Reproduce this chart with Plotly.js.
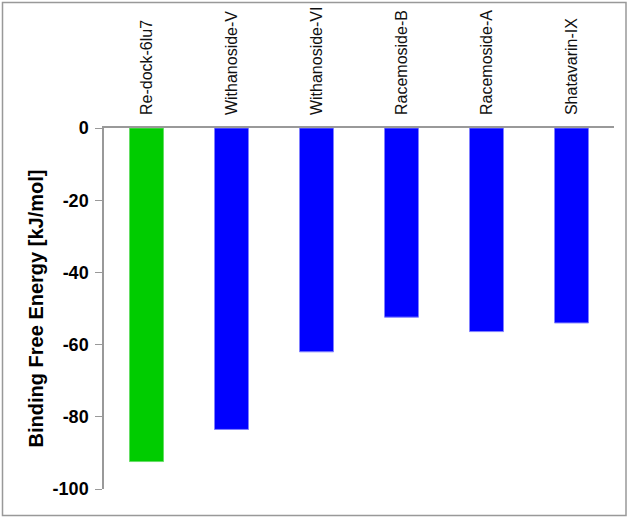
<!DOCTYPE html>
<html>
<head>
<meta charset="utf-8">
<script src="https://cdn.plot.ly/plotly-3.0.1.min.js"></script>
<style>
  body { margin: 0; }
  #plot { width: 628px; height: 518px; }
</style>
</head>
<body>
<div id="plot"></div>
<script>
// Binding free energies
const compounds = ["Re-dock-6lu7", "Withanoside-V", "Withanoside-VI", "Racemoside-B", "Racemoside-A", "Shatavarin-IX"];
const energies = [-92.4, -83.5, -62.0, -52.4, -56.4, -54.0];
const barColors = ["#00cc00", "#0000ff", "#0000ff", "#0000ff", "#0000ff", "#0000ff"];
const edgeColors = ["#66dd66", "#8080ff", "#8080ff", "#8080ff", "#8080ff", "#8080ff"];
const yTicks = [0, -20, -40, -60, -80, -100];

const data = [{
    type: "bar",
    x: compounds,
    y: energies,
    width: 0.4,
    marker: { color: barColors, line: { color: edgeColors, width: 1 } },
    hoverinfo: "x+y"
}];

// border around the whole figure, in paper units of the plot area
const mL = 104, mR = 14, mT = 128, mB = 29;
const pw = 628 - mL - mR, ph = 518 - mT - mB;
const px = v => (v - mL) / pw;
const py = v => 1 - (v - mT) / ph;

const layout = {
    width: 628,
    height: 518,
    margin: { l: mL, r: mR, t: mT, b: mB },
    paper_bgcolor: "white",
    plot_bgcolor: "white",
    font: { family: "Liberation Sans, Arial, sans-serif", color: "black" },
    showlegend: false,
    bargap: 0.6,
    xaxis: {
        side: "top",
        showline: true,
        linecolor: "#999999",
        linewidth: 1.5,
        ticks: "",
        tickangle: -90,
        ticklabelstandoff: 8,
        tickfont: { size: 16, color: "#111111" },
        showgrid: false,
        zeroline: false
    },
    yaxis: {
        range: [-100, 0],
        tickvals: yTicks,
        ticktext: yTicks.map(v => "<b>" + v + "</b>"),
        showline: true,
        linecolor: "#999999",
        linewidth: 1.5,
        ticks: "outside",
        ticklen: 7,
        tickcolor: "#999999",
        ticklabelstandoff: 3,
        tickfont: { size: 18, color: "black" },
        showgrid: false,
        zeroline: false,
        title: {
            text: "<b>Binding Free Energy [kJ/mol]</b>",
            font: { size: 20, color: "black" },
            standoff: 4
        }
    },
    shapes: [{
        type: "rect",
        xref: "paper",
        yref: "paper",
        x0: px(2.5), x1: px(626),
        y0: py(515.5), y1: py(2.5),
        line: { color: "#999999", width: 1.5 }
    }]
};

Plotly.newPlot("plot", data, layout, { displayModeBar: false });
</script>
</body>
</html>
